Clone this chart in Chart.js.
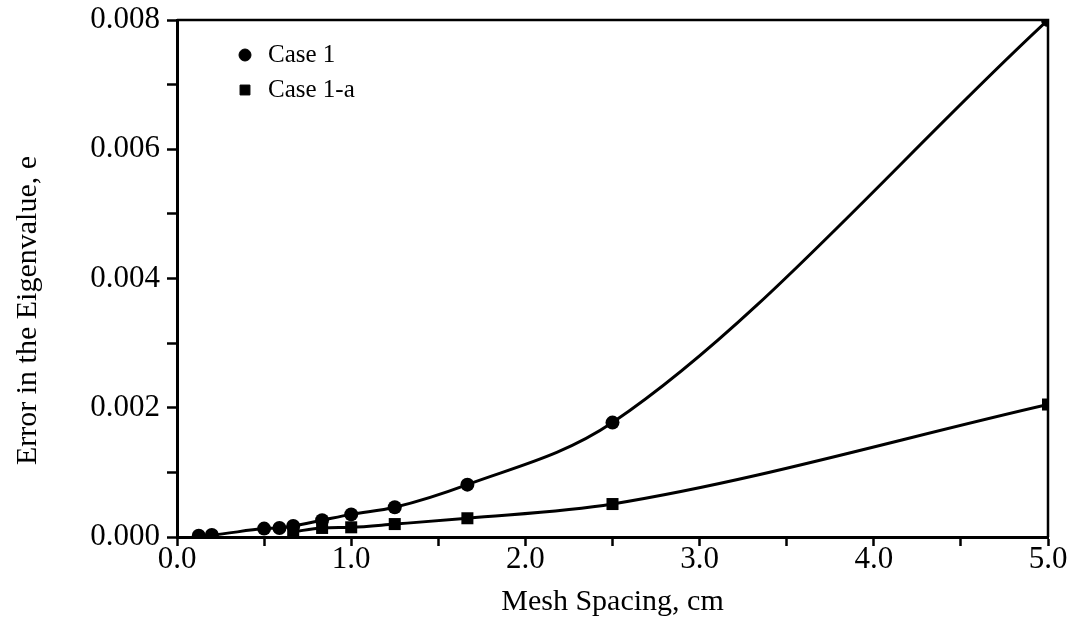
<!DOCTYPE html>
<html>
<head>
<meta charset="utf-8">
<script src="https://cdn.jsdelivr.net/npm/chart.js@4"></script>
<style>
  html, body { margin: 0; padding: 0; background: #fff; }
  #wrap { width: 1076px; height: 633px; }
</style>
</head>
<body>
<div id="wrap"><canvas id="chart"></canvas></div>
<script>
// mesh spacing (cm) and eigenvalue error
const case1X = [0.125, 0.2, 0.5, 0.588, 0.667, 0.833, 1.0, 1.25, 1.667, 2.5, 5.0];
const case1Y = [0.00002, 0.00003, 0.00013, 0.00014, 0.00017, 0.00026, 0.00035, 0.00046, 0.00081, 0.00177, 0.0080];
const case1aX = [0.667, 0.833, 1.0, 1.25, 1.667, 2.5, 5.0];
const case1aY = [0.00008, 0.00014, 0.00015, 0.0002, 0.00029, 0.00051, 0.00205];
const seriesLabels = ['Case 1', 'Case 1-a'];
const yTitle = 'Error in the Eigenvalue, e';

const FONT = "'Liberation Serif', 'Times New Roman', serif";

const toPoints = (xs, ys) => xs.map((x, i) => ({ x: x, y: ys[i] }));

// frame around the plot area (top and right edges) + y axis title
const framePlugin = {
    id: 'frame',
    afterDraw(chart) {
        const a = chart.chartArea;
        const ctx = chart.ctx;
        ctx.save();
        ctx.strokeStyle = '#000';
        ctx.lineWidth = 2.5;
        ctx.beginPath();
        ctx.moveTo(a.left, a.top);
        ctx.lineTo(a.right, a.top);
        ctx.lineTo(a.right, a.bottom);
        ctx.stroke();

        // y title sits a bit below the middle in the original
        ctx.translate(28, (a.top + a.bottom) / 2 + 32);
        ctx.rotate(-Math.PI / 2);
        ctx.font = '30px ' + FONT;
        ctx.fillStyle = '#000';
        ctx.textAlign = 'center';
        ctx.textBaseline = 'middle';
        ctx.fillText(yTitle, 0, 0);
        ctx.restore();
    }
};

// legend drawn inside the plot, top-left
const insideLegend = {
    id: 'insideLegend',
    afterDraw(chart) {
        const ctx = chart.ctx;
        const a = chart.chartArea;
        ctx.save();
        ctx.font = '25px ' + FONT;
        ctx.textBaseline = 'middle';
        ctx.fillStyle = '#000';
        chart.data.datasets.forEach((ds, i) => {
            const y = a.top + 35 + i * 35;
            const x = a.left + 68;
            Chart.helpers.drawPoint(ctx, {
                pointStyle: ds.pointStyle,
                radius: i === 0 ? 6 : 7,
                borderWidth: 1
            }, x, y);
            ctx.fillText(ds.label, x + 23, y);
        });
        ctx.restore();
    }
};

new Chart(document.getElementById('chart'), {
    type: 'line',
    data: {
        datasets: [
            {
                label: seriesLabels[0],
                data: toPoints(case1X, case1Y),
                borderColor: '#000',
                backgroundColor: '#000',
                borderWidth: 3,
                pointStyle: 'circle',
                pointRadius: 7,
                pointBorderWidth: 0,
                cubicInterpolationMode: 'monotone',
                fill: false
            },
            {
                label: seriesLabels[1],
                data: toPoints(case1aX, case1aY),
                borderColor: '#000',
                backgroundColor: '#000',
                borderWidth: 3,
                pointStyle: 'rect',
                pointRadius: 8.5,
                pointBorderWidth: 0,
                cubicInterpolationMode: 'monotone',
                fill: false
            }
        ]
    },
    options: {
        responsive: true,
        maintainAspectRatio: false,
        animation: false,
        layout: { padding: { top: 20, right: 28, left: 0, bottom: 0 } },
        plugins: {
            legend: { display: false },
            tooltip: { enabled: false }
        },
        scales: {
            x: {
                type: 'linear',
                min: 0,
                max: 5,
                afterFit(scale) { scale.height = 96; },
                border: { color: '#000', width: 3 },
                grid: {
                    drawOnChartArea: false,
                    drawTicks: true,
                    tickLength: 9,
                    tickWidth: 2.5,
                    tickColor: '#000'
                },
                ticks: {
                    stepSize: 0.5,
                    autoSkip: false,
                    maxRotation: 0,
                    padding: -5,
                    color: '#000',
                    font: { family: FONT, size: 31 },
                    callback: (v) => (Math.abs(v - Math.round(v)) < 1e-9 ? v.toFixed(1) : '')
                },
                title: {
                    display: true,
                    text: 'Mesh Spacing, cm',
                    color: '#000',
                    font: { family: FONT, size: 30 },
                    padding: { top: 4, bottom: 13 }
                }
            },
            y: {
                type: 'linear',
                min: 0,
                max: 0.008,
                afterFit(scale) {
                    scale.width = 177;
                    scale.paddingTop = 0;
                    scale.paddingBottom = 0;
                },
                border: { color: '#000', width: 3 },
                grid: {
                    drawOnChartArea: false,
                    drawTicks: true,
                    tickLength: 10,
                    tickWidth: 2.5,
                    tickColor: '#000'
                },
                ticks: {
                    stepSize: 0.001,
                    autoSkip: false,
                    padding: 7,
                    color: '#000',
                    font: { family: FONT, size: 31 },
                    callback: (v) => {
                        const n = Math.round(v * 1000);
                        return n % 2 === 0 ? (n / 1000).toFixed(3) : '';
                    }
                },
                title: { display: false }
            }
        }
    },
    plugins: [framePlugin, insideLegend]
});
</script>
</body>
</html>
